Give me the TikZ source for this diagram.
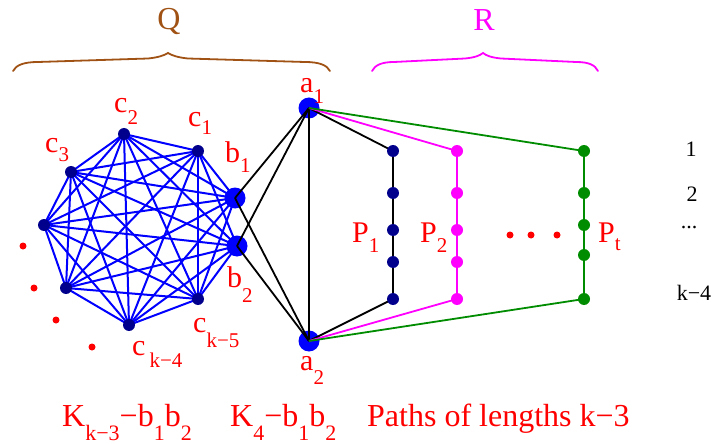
\documentclass[tikz,border=0pt]{standalone}
\usepackage{fontspec}
\setmainfont{Liberation Serif}
\definecolor{vblue}{RGB}{0,0,255}
\definecolor{vnavy}{RGB}{0,0,140}
\definecolor{vgreen}{RGB}{0,140,0}
\definecolor{vmag}{RGB}{255,0,255}
\definecolor{vbrown}{RGB}{160,82,20}
\newcommand{\lsub}[2][11pt]{\raisebox{-#1}{\fontsize{21}{21}\selectfont #2}}
\newcommand{\bsub}[1]{\raisebox{-14pt}{\fontsize{22}{22}\selectfont #1}}
\pgfdeclarelayer{bg}
\pgfdeclarelayer{edges}
\pgfsetlayers{bg,edges,main}
\begin{document}
\begin{tikzpicture}[x=1pt,y=-1pt,
  sdot/.style={circle, inner sep=0pt, minimum size=12pt},
  bdot/.style={circle, fill=vblue, inner sep=0pt, minimum size=21pt},
  rdot/.style={circle, fill=red, inner sep=0pt, minimum size=7pt},
  clq/.style={vblue, line width=2pt},
  blk/.style={black, line width=1.8pt},
  pe/.style={line width=1.8pt},
  lbl/.style={text=red, font=\fontsize{30}{30}\selectfont, anchor=base west, inner sep=0pt},
  blbl/.style={text=red, font=\fontsize{32}{32}\selectfont, anchor=base west, inner sep=0pt},
  num/.style={text=black, font=\fontsize{22}{22}\selectfont, anchor=base, inner sep=0pt},
  brc/.style={line width=1.8pt, line cap=round},
]
\useasboundingbox (0,0) rectangle (716,444);

% clique vertices
\node[sdot, fill=vnavy] (c2) at (124,134) {};
\node[sdot, fill=vnavy] (c1) at (198,151) {};
\node[sdot, fill=vnavy] (c3) at (71,172) {};
\node[sdot, fill=vnavy] (v8) at (44,225) {};
\node[sdot, fill=vnavy] (v7) at (66,288) {};
\node[sdot, fill=vnavy] (ck4) at (129,325) {};
\node[sdot, fill=vnavy] (ck5) at (198,299) {};
\begin{pgfonlayer}{bg}
\node[bdot] (b1) at (235,198) {};
\node[bdot] (b2) at (237,246) {};
\node[bdot] (a1) at (309,108) {};
\node[bdot] (a2) at (309,341) {};
\end{pgfonlayer}

% path vertices
\foreach \n/\y in {1/151,2/193,3/230,4/262,5/299}{
  \node[sdot, fill=vnavy] (p1\n) at (393,\y) {};
  \node[sdot, fill=vmag] (p2\n) at (457,\y) {};
}
\foreach \n/\y in {1/151,2/193,3/225,4/255,5/299}{
  \node[sdot, fill=vgreen] (pt\n) at (584,\y) {};
}

% red dots
\node[rdot] (rd1) at (23,246) {};
\node[rdot] (rd2) at (34,288) {};
\node[rdot] (rd3) at (56,320) {};
\node[rdot] (rd4) at (92,347) {};
\node[rdot] (rd5) at (510,235) {};
\node[rdot] (rd6) at (531,235) {};
\node[rdot] (rd7) at (557,235) {};

\begin{pgfonlayer}{edges}
\foreach \u [count=\i] in {c2,c1,b1,b2,ck5,ck4,v7,v8,c3}{
  \foreach \v [count=\j] in {c2,c1,b1,b2,ck5,ck4,v7,v8,c3}{
    \ifnum\j>\i \ifnum\i\j=34 \else \draw[clq] (\u.center) -- (\v.center); \fi\fi
  }
}
\draw[blk] (a1.center) -- (b1.center);
\draw[blk] (a1.center) -- (b2.center);
\draw[blk] (a2.center) -- (b1.center);
\draw[blk] (a2.center) -- (b2.center);
\draw[blk] (a1.center) -- (a2.center);
\draw[blk] (a1.center) -- (p11.center) -- (p12.center) -- (p13.center) -- (p14.center) -- (p15.center) -- (a2.center);
\draw[pe, vmag] (a1.center) -- (p21.center) -- (p22.center) -- (p23.center) -- (p24.center) -- (p25.center) -- (a2.center);
\draw[pe, vgreen] (a1.center) -- (pt1.center) -- (pt2.center) -- (pt3.center) -- (pt4.center) -- (pt5.center) -- (a2.center);
\end{pgfonlayer}

% vertex labels
\node[lbl] (lc2) at (114,113) {c\lsub[12pt]{2}};
\node[lbl] (lc1) at (188,127) {c\lsub[8pt]{1}};
\node[lbl] (lc3) at (45,153) {c\lsub[9pt]{3}};
\node[lbl] (lb1) at (225,162) {b\lsub[10pt]{1}};
\node[lbl] (lb2) at (227,287) {b\lsub[16pt]{2}};
\node[lbl] (lck5) at (193,332) {c\lsub[15pt]{k−5}};
\node[lbl] (lck4) at (132,355) {c\kern4pt\lsub[12pt]{k−4}};
\node[lbl] (la1) at (300,93) {a\lsub[10pt]{1}};
\node[lbl] (la2) at (300,370) {a\lsub[14pt]{2}};
\node[lbl] (lp1) at (352,242) {P\lsub[10pt]{1}};
\node[lbl] (lp2) at (420,242) {P\lsub[10pt]{2}};
\node[lbl] (lpt) at (598,242) {P\lsub[8pt]{t}};

% right numbers
\node[num] (n1) at (691,157) {1};
\node[num] (n2) at (692,201) {2};
\node[num] (n3) at (689,229) {...};
\node[num] (n4) at (694,300) {k−4};

% bottom labels
\node[blbl] (bl1) at (62,426) {K\bsub{k−3}−b\bsub{1}b\bsub{2}};
\node[blbl] (bl2) at (230,426) {K\bsub{4}−b\bsub{1}b\bsub{2}};
\node[blbl] (bl3) at (367,426) {Paths of lengths k−3};

% braces
\draw[brc, vbrown] (13,71) .. controls (16,65) and (24,62) .. (38,62)
  -- (148,58.5) .. controls (158,57.5) and (164,55.5) .. (168,53)
  .. controls (172,55.5) and (178,57.5) .. (188,58.5)
  -- (305,62) .. controls (319,62) and (327,65) .. (330,71);
\node[anchor=base, inner sep=0pt, text=vbrown, font=\fontsize{32}{32}\selectfont] (Q) at (169,30) {Q};
\draw[brc, vmag] (372,71) .. controls (375,65) and (382,62) .. (394,62)
  -- (465,58.5) .. controls (475,57.5) and (480,55.5) .. (483,53)
  .. controls (486,55.5) and (491,57.5) .. (501,58.5)
  -- (576,62) .. controls (589,62) and (595,65) .. (598,71);
\node[anchor=base, inner sep=0pt, text=vmag, font=\fontsize{32}{32}\selectfont] (R) at (484,31) {R};
\end{tikzpicture}
\end{document}
